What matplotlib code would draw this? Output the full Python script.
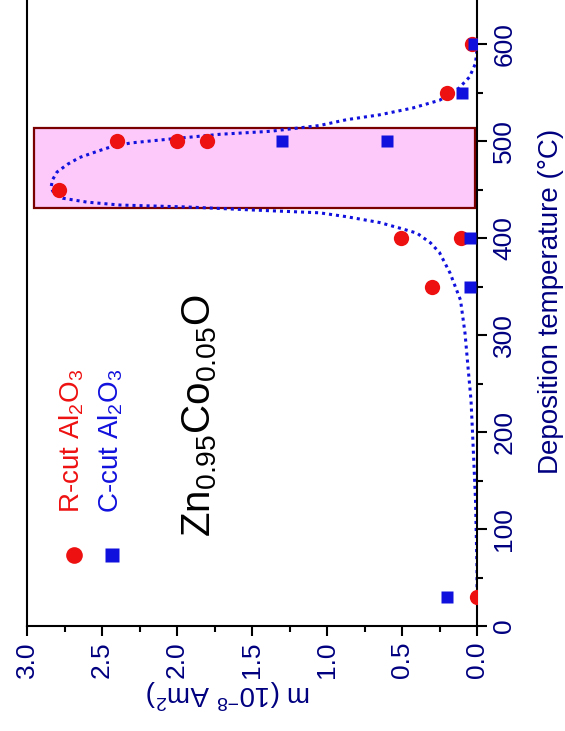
import matplotlib
matplotlib.use("Agg")
import matplotlib.pyplot as plt
from matplotlib.patches import Rectangle
from matplotlib.ticker import MultipleLocator

plt.rcParams['font.family'] = ['Liberation Sans', 'DejaVu Sans']
plt.rcParams['mathtext.default'] = 'regular'

# ------------------------------------------------------------------------------------------------------------------
# data (temperature in C, m in 1e-8 Am^2)
r_temp = [30, 350, 400, 400, 450, 500, 500, 500, 550, 600]
r_m = [0.0, 0.3, 0.51, 0.11, 2.79, 2.4, 2.0, 1.8, 0.2, 0.035]

c_temp = [30, 350, 400, 500, 500, 550, 600]
c_m = [0.2, 0.05, 0.05, 1.3, 0.6, 0.1, 0.02]

# dotted guide curve, traced point by point
fit_temp = [40, 60, 130, 200, 233, 267, 302, 336, 364, 385, 395, 405, 410, 416, 422, 426, 429, 432,
            434, 437, 441, 446, 452, 460, 468, 476, 483, 490, 494, 498, 502, 507, 510, 516, 522, 527,
            534, 542, 553, 566, 580, 595]
fit_m = [0.0, 0.0, 0.01, 0.03, 0.04, 0.06, 0.08, 0.11, 0.18, 0.25, 0.31, 0.40, 0.51, 0.65, 0.87, 1.05,
         1.51, 1.93, 2.38, 2.60, 2.76, 2.82, 2.84, 2.83, 2.80, 2.73, 2.65, 2.52, 2.44, 2.31, 2.05, 1.71,
         1.38, 1.05, 0.87, 0.65, 0.43, 0.25, 0.13, 0.05, 0.01, 0.0]

# highlighted window
box_m = [0.013, 2.95]
box_temp = [431, 513.5]

m_ticks = [3.0, 2.5, 2.0, 1.5, 1.0, 0.5, 0.0]
temp_ticks = [0, 100, 200, 300, 400, 500, 600]

navy = "#000080"
red = "#ee1111"
blue = "#1111dd"

W, H = 565, 731


def px(x, y):
    # pixel (from top left) -> figure fraction
    return x / W, 1 - y / H


# ------------------------------------------------------------------------------------------------------------------
fig = plt.figure(figsize=(W / 100, H / 100), dpi=100)
ax = fig.add_axes([27 / W, 105 / H, 450 / W, 626 / H])

ax.add_patch(Rectangle((box_m[0], box_temp[0]), box_m[1] - box_m[0], box_temp[1] - box_temp[0],
                       facecolor="#fdc9fb", edgecolor="#7a0000", lw=1.6, zorder=1))
ax.plot(fit_m, fit_temp, color=blue, lw=2.2, linestyle=(0, (1, 1.3)), dash_capstyle="butt", zorder=2)
ax.plot(r_m, r_temp, "o", color=red, ms=11, mec="none", zorder=3)
ax.plot(c_m, c_temp, "s", color=blue, ms=9, mec="none", zorder=4)

ax.set_xlim(3.0, 0.0)
ax.set_ylim(0, 645.4)

for s in ["left", "bottom", "right"]:
    ax.spines[s].set_linewidth(1.5)
ax.spines["top"].set_visible(False)

ax.set_xticks(m_ticks)
ax.set_xticklabels([f"{v:.1f}" for v in m_ticks], rotation=90, va="top", ha="center")
ax.xaxis.set_minor_locator(MultipleLocator(0.25))
ax.set_yticks(temp_ticks)
ax.set_yticklabels([str(v) for v in temp_ticks], rotation=90, va="center", ha="left")
ax.yaxis.set_minor_locator(MultipleLocator(50))
ax.yaxis.tick_right()

ax.tick_params(which="both", direction="out", width=1.5, labelcolor=navy, labelsize=19)
ax.tick_params(which="major", length=7, pad=4)
ax.tick_params(which="minor", length=4.5)

# axis titles
fig.text(*px(229, 694), "m (10$^{-8}$ Am$^{2}$)", rotation=180, ha="center", va="center",
         color=navy, fontsize=20)
fig.text(*px(551, 301), "Deposition temperature (°C)", rotation=90, ha="center", va="center",
         color=navy, fontsize=20)

# composition
fig.text(*px(200, 416), "Zn$_{0.95}$Co$_{0.05}$O", rotation=90, ha="center", va="center",
         color="black", fontsize=29)

# hand-made legend
ax.plot(*px(74, 555), "o", color=red, ms=12, mec="none", transform=fig.transFigure, clip_on=False)
ax.plot(*px(112, 555), "s", color=blue, ms=9.5, mec="none", transform=fig.transFigure, clip_on=False)
fig.text(*px(72, 513), "R-cut Al$_2$O$_3$", rotation=90, ha="center", va="bottom", color=red, fontsize=20)
fig.text(*px(111, 513), "C-cut Al$_2$O$_3$", rotation=90, ha="center", va="bottom", color=blue, fontsize=20)

fig.savefig("out.png", dpi=100)
